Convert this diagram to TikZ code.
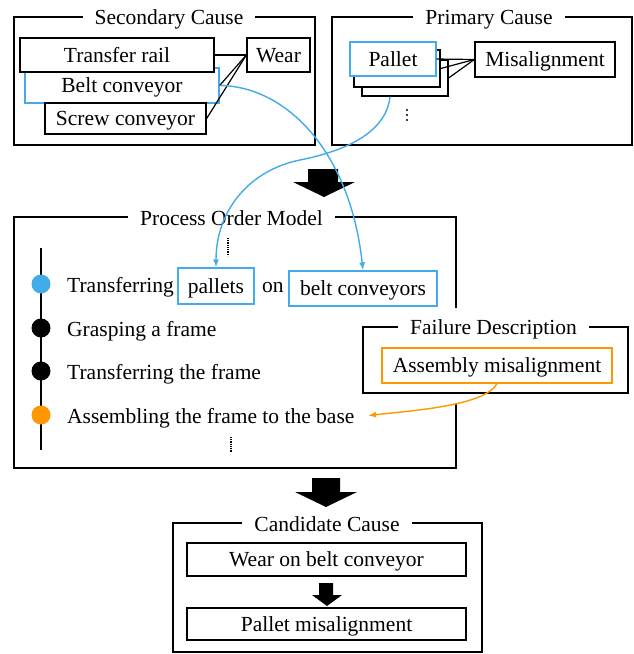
\documentclass[tikz,border=0pt]{standalone}
\usepackage{fontspec}
\setmainfont{Liberation Serif}
\usetikzlibrary{arrows.meta}
\definecolor{causeblue}{RGB}{66,171,232}
\definecolor{failorange}{RGB}{255,152,0}

\begin{document}
\begin{tikzpicture}[x=1pt, y=-1pt,
  font=\fontsize{21.5}{26}\selectfont,
  frame/.style={draw, line width=1.5pt},
  title/.style={fill=white, inner xsep=12pt, inner ysep=1pt, anchor=base},
  box/.style={draw, line width=1.3pt, fill=white, inner sep=0pt,
              text height=16pt, text depth=2pt},
  link/.style={line width=1.2pt},
  steptext/.style={anchor=base west, inner sep=0pt},
  stepdot/.style={circle, inner sep=0pt, minimum size=19pt},
  blockarrow/.style={fill=black},
  bluelink/.style={draw=causeblue, line width=1.4pt, -{Latex[length=8pt, width=6pt]}},
  orangelink/.style={draw=failorange, line width=1.4pt, -{Latex[length=8pt, width=6pt]}}]

\useasboundingbox (0,0) rectangle (634,654);

% ---- Secondary cause ----
\draw[frame] (14,17) rectangle (315,145);
\node[title] (sectitle) at (169,24) {Secondary Cause};
\node[box, draw=causeblue, minimum width=194pt, minimum height=35pt] (belt) at (122,85.5) {Belt conveyor};
\node[box, minimum width=194pt, minimum height=34pt] (rail) at (117,55) {Transfer rail};
\node[box, minimum width=161pt, minimum height=31pt] (screw) at (125.5,118.5) {Screw conveyor};
\node[box, minimum width=63pt, minimum height=34pt] (wear) at (278.5,55) {Wear};
\draw[link] (wear.west) -- (rail.east);
\draw[link] (wear.west) -- (belt.east);
\draw[link] (wear.west) -- (screw.east);

% ---- Primary cause ----
\draw[frame] (332,17) rectangle (632,145);
\node[title] (primtitle) at (489,24) {Primary Cause};
\node[box, minimum width=86pt, minimum height=36pt] (stack3) at (405,78) {};
\node[box, minimum width=86pt, minimum height=37pt] (stack2) at (397,68.5) {};
\node[box, draw=causeblue, minimum width=86pt, minimum height=34pt] (pallet) at (393,59) {Pallet};
\node[box, minimum width=140pt, minimum height=35pt] (misalign) at (545,59.5) {Misalignment};
\draw[link] (misalign.west) -- (pallet.east);
\draw[link] (misalign.west) -- (stack2.east);
\draw[link] (misalign.west) -- (stack3.east);
\foreach \yy in {110,115,120} \fill (407,\yy) circle (1.1pt);

% ---- first block arrow ----
\fill[blockarrow] (308,169) -- (338,169) -- (338,182) -- (355,182) -- (324,197)
  -- (293,182) -- (308,182) -- cycle;

% ---- Process order model ----
\draw[frame] (14,217) rectangle (456,468);
\node[title] (proctitle) at (231.5,225) {Process Order Model};
\draw[line width=1.5pt] (41,248) -- (41,450);
\draw[line width=1.3pt, dash pattern=on 0.8pt off 1pt] (228,238) -- (228,256);
\draw[line width=1.3pt, dash pattern=on 0.8pt off 1pt] (231,437) -- (231,453);
\node[stepdot, fill=causeblue] (dot1) at (41,284) {};
\node[stepdot, fill=black] (dot2) at (41,328) {};
\node[stepdot, fill=black] (dot3) at (41,371) {};
\node[stepdot, fill=failorange] (dot4) at (41,415) {};
\node[steptext] (step1) at (67,292) {Transferring};
\node[box, draw=causeblue, minimum width=76pt, minimum height=36pt] (palletsref) at (216,286) {pallets};
\node[steptext] (on) at (262,292) {on};
\node[box, draw=causeblue, minimum width=148pt, minimum height=35pt] (beltsref) at (363,288.5) {belt conveyors};
\node[steptext] (step2) at (67,336) {Grasping a frame};
\node[steptext] (step3) at (67,379) {Transferring the frame};
\node[steptext] (step4) at (67,423) {Assembling the frame to the base};
\coordinate (step4end) at (368,415.5);

% ---- Failure description ----
\fill[white] (358,308) rectangle (633,404);
\draw[frame, fill=white] (363,327) rectangle (628,393);
\node[title] (failtitle) at (493.5,334) {Failure Description};
\node[box, draw=failorange, minimum width=230pt, minimum height=35pt] (failure) at (497,365.5) {Assembly misalignment};

% ---- second block arrow ----
\fill[blockarrow] (312,478) -- (340,478) -- (340,492) -- (357,492) -- (326,507)
  -- (295,492) -- (312,492) -- cycle;

% ---- Candidate cause ----
\draw[frame] (173,523) rectangle (482,652);
\node[title] (candtitle) at (327,531) {Candidate Cause};
\node[box, minimum width=279pt, minimum height=33pt] (cand1) at (326.5,559.5) {Wear on belt conveyor};
\node[box, minimum width=279pt, minimum height=32pt] (cand2) at (326.5,624) {Pallet misalignment};
\fill[blockarrow] (319,583) -- (333,583) -- (333,595) -- (342,595) -- (327,606)
  -- (312,595) -- (319,595) -- cycle;

% ---- links between the models ----
\draw[bluelink] (belt.east) .. controls (285,86) and (350,150) .. (beltsref.north);
\draw[bluelink] ([xshift=-3pt]pallet.south |- stack3.south) .. controls (386,135) and (340,152) .. (300,160)
  .. controls (250,170) and (216,210) .. (palletsref.north);
\draw[orangelink] (failure.south) .. controls (485,405) and (420,410) .. (step4end);

\end{tikzpicture}
\end{document}
